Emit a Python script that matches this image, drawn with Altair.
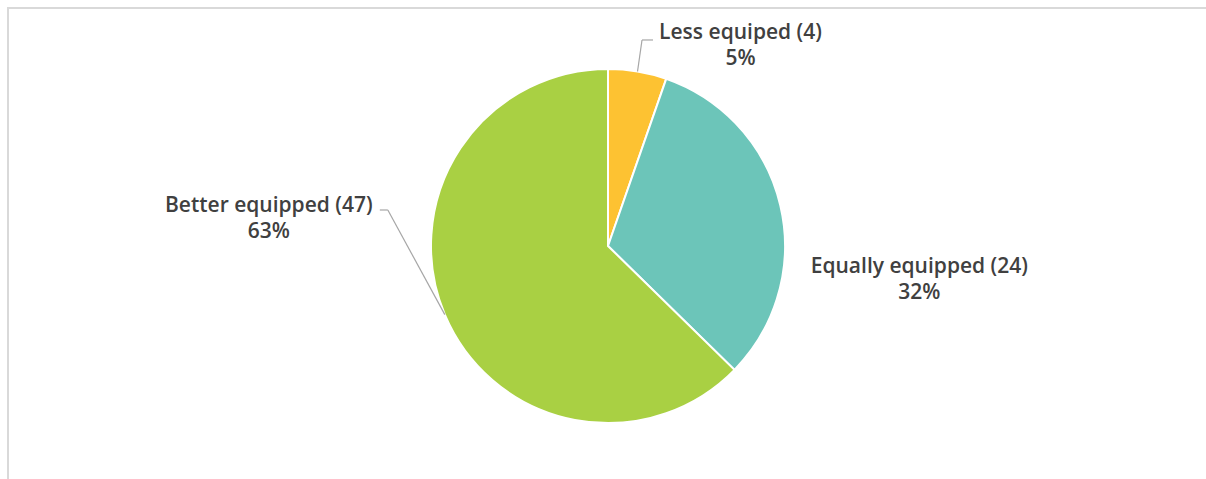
import altair as alt
import pandas as pd

# Survey answers: how equipped respondents feel
categories = ["Less equiped", "Equally equipped", "Better equipped"]
counts = [4, 24, 47]
slice_colors = ["#FDC232", "#6CC5B9", "#A9D043"]

# Layout (pixels): pie centre/radius, label offsets from each slice's outer midpoint,
# and leader-line elbow offsets (None = no leader line)
CX, CY, R = 608, 246, 177
label_dx = [103, 139, -176]
label_dy = [-38, 61, -109]
elbow_dx = [4.5, None, -57]
elbow_dy = [-31.5, None, -104.6]
tail_dx = [11, None, -8]

df = pd.DataFrame({
    "category": categories,
    "count": counts,
    "idx": list(range(len(categories))),
    "ldx": label_dx,
    "ldy": label_dy,
    "bdx": elbow_dx,
    "bdy": elbow_dy,
    "tdx": tail_dx,
})

base = alt.Chart(df).transform_joinaggregate(
    total="sum(count)"
).transform_window(
    cum="sum(count)", sort=[alt.SortField("idx")], frame=[None, 0]
).transform_calculate(
    mid="(datum.cum - datum.count / 2) / datum.total * 2 * PI",
    ex=f"{CX} + {R} * sin(datum.mid)",
    ey=f"{CY} - {R} * cos(datum.mid)",
    lx="datum.ex + datum.ldx",
    ly="datum.ey + datum.ldy",
    label="datum.category + ' (' + datum.count + ')\\n' + format(datum.count / datum.total, '.0%')",
)

color_scale = alt.Scale(domain=categories, range=slice_colors)

pie = alt.Chart(df).mark_arc(outerRadius=R, stroke="white", strokeWidth=2).encode(
    theta=alt.Theta("count:Q", stack=True),
    color=alt.Color("category:N", scale=color_scale, legend=None),
    order=alt.Order("idx:Q"),
    x=alt.value(CX),
    y=alt.value(CY),
)

leaders = base.transform_filter("isValid(datum.bdx)").transform_calculate(
    bx="datum.ex + datum.bdx",
    by="datum.ey + datum.bdy",
    tx="datum.ex + datum.bdx + datum.tdx",
)

seg1 = leaders.mark_rule(color="#A6A6A6", strokeWidth=1.2).encode(
    x=alt.X("ex:Q", scale=None), y=alt.Y("ey:Q", scale=None),
    x2="bx:Q", y2="by:Q",
)
seg2 = leaders.mark_rule(color="#A6A6A6", strokeWidth=1.2).encode(
    x=alt.X("bx:Q", scale=None), y=alt.Y("by:Q", scale=None),
    x2="tx:Q", y2="by:Q",
)

labels = base.mark_text(
    font="Open Sans", fontSize=21, fontWeight=600, color="#404040",
    align="center", baseline="middle", lineBreak="\n", lineHeight=26,
).encode(
    x=alt.X("lx:Q", scale=None),
    y=alt.Y("ly:Q", scale=None),
    text="label:N",
)

frame = alt.Chart(pd.DataFrame({"k": [0]})).mark_rect(
    filled=False, stroke="#D9D9D9", strokeWidth=2
).encode(
    x=alt.value(8), x2=alt.value(1260), y=alt.value(8), y2=alt.value(540)
)

chart = alt.layer(frame, pie, seg1, seg2, labels).properties(
    width=1206, height=479, padding=0, autosize="none", background="white"
).configure_view(stroke=None)

chart.save("out.html", embed_options={"renderer": "svg", "actions": False})
